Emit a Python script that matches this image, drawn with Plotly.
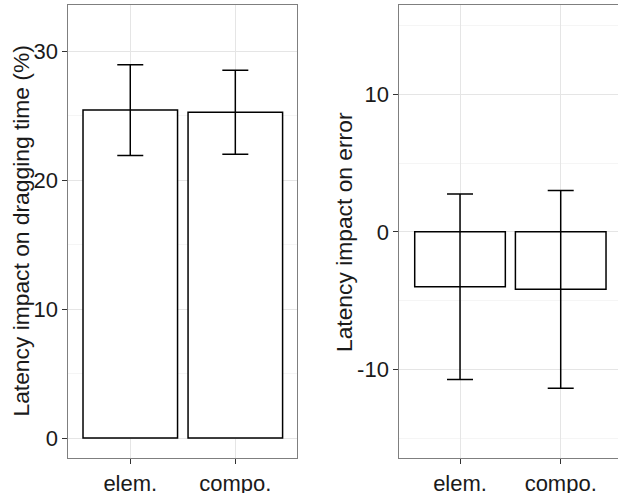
import plotly.graph_objects as go

categories = ["elem.", "compo."]

# Left panel: latency impact on dragging time (%)
drag_mean = [25.43, 25.25]
drag_upper = [28.94, 28.50]
drag_lower = [21.91, 22.00]

# Right panel: latency impact on error
err_mean = [-4.00, -4.17]
err_upper = [2.76, 3.01]
err_lower = [-10.73, -11.37]

left_ticks = [0, 10, 20, 30]
left_ticktext = ["0", "10", "20", "30"]
right_ticks = [-10, 0, 10]
right_ticktext = ["-10", "0", "10"]

W, H = 618, 493
FONT = "Liberation Sans, Arial, Helvetica, sans-serif"


def px_x(p):
    return p / W


def px_y(p):
    return 1 - p / H


def bar_trace(means, upper, lower, xa, ya):
    return go.Bar(
        x=categories, y=means, width=0.9,
        marker=dict(color="white", line=dict(color="black", width=1.5)),
        error_y=dict(type="data", symmetric=False,
                     array=[u - m for u, m in zip(upper, means)],
                     arrayminus=[m - l for m, l in zip(means, lower)],
                     color="black", thickness=1.5, width=13),
        xaxis=xa, yaxis=ya, showlegend=False, hoverinfo="skip",
    )


fig = go.Figure()
fig.add_trace(bar_trace(drag_mean, drag_upper, drag_lower, "x", "y"))
fig.add_trace(bar_trace(err_mean, err_upper, err_lower, "x2", "y2"))

ydom = [px_y(458.3), px_y(4.7)]

common_x = dict(
    type="category", showline=True, mirror=True, linecolor="#7f7f7f", linewidth=1,
    showgrid=True, gridcolor="#e5e5e5", gridwidth=1, automargin=False,
    ticks="outside", ticklen=5, tickcolor="#333333", tickwidth=1,
    tickfont=dict(family=FONT, size=22, color="#1a1a1a"), zeroline=False,
)
common_y = dict(
    showline=True, mirror=True, linecolor="#7f7f7f", linewidth=1,
    showgrid=True, gridcolor="#e5e5e5", gridwidth=1, automargin=False,
    minor=dict(dtick=5, showgrid=True, gridcolor="#f5f5f5", gridwidth=1, ticks=""),
    ticks="outside", ticklen=5, tickcolor="#333333", tickwidth=1,
    tickfont=dict(family=FONT, size=22, color="#1a1a1a"), zeroline=False,
    domain=ydom,
)

fig.update_layout(
    width=W, height=H,
    margin=dict(l=0, r=0, t=0, b=0, autoexpand=False),
    paper_bgcolor="white", plot_bgcolor="white",
    font=dict(family=FONT, size=22, color="#1a1a1a"),
    hovermode=False,
    xaxis=dict(common_x, domain=[px_x(68.3), px_x(297.3)], range=[-0.59, 1.59], anchor="y"),
    yaxis=dict(common_y, range=[-1.57, 33.59], tickvals=left_ticks,
               ticktext=left_ticktext, anchor="x"),
    xaxis2=dict(common_x, domain=[px_x(399.3), 1.0], range=[-0.603, 1.569], anchor="y2"),
    yaxis2=dict(common_y, mirror=False, range=[-16.47, 16.52], tickvals=right_ticks,
                ticktext=right_ticktext, anchor="x2"),
    annotations=[
        dict(text="Latency impact on dragging time (%)", textangle=-90,
             xref="paper", yref="paper", x=px_x(20), y=px_y(231.5),
             xanchor="center", yanchor="middle", showarrow=False,
             font=dict(family=FONT, size=22.8, color="#1a1a1a")),
        dict(text="Latency impact on error", textangle=-90,
             xref="paper", yref="paper", x=px_x(344), y=px_y(232),
             xanchor="center", yanchor="middle", showarrow=False,
             font=dict(family=FONT, size=22.8, color="#1a1a1a")),
    ],
)

fig.write_html(
    "out.html",
    config={"displayModeBar": False},
    post_script="document.body.style.margin='0px';document.body.style.padding='0px';",
)
